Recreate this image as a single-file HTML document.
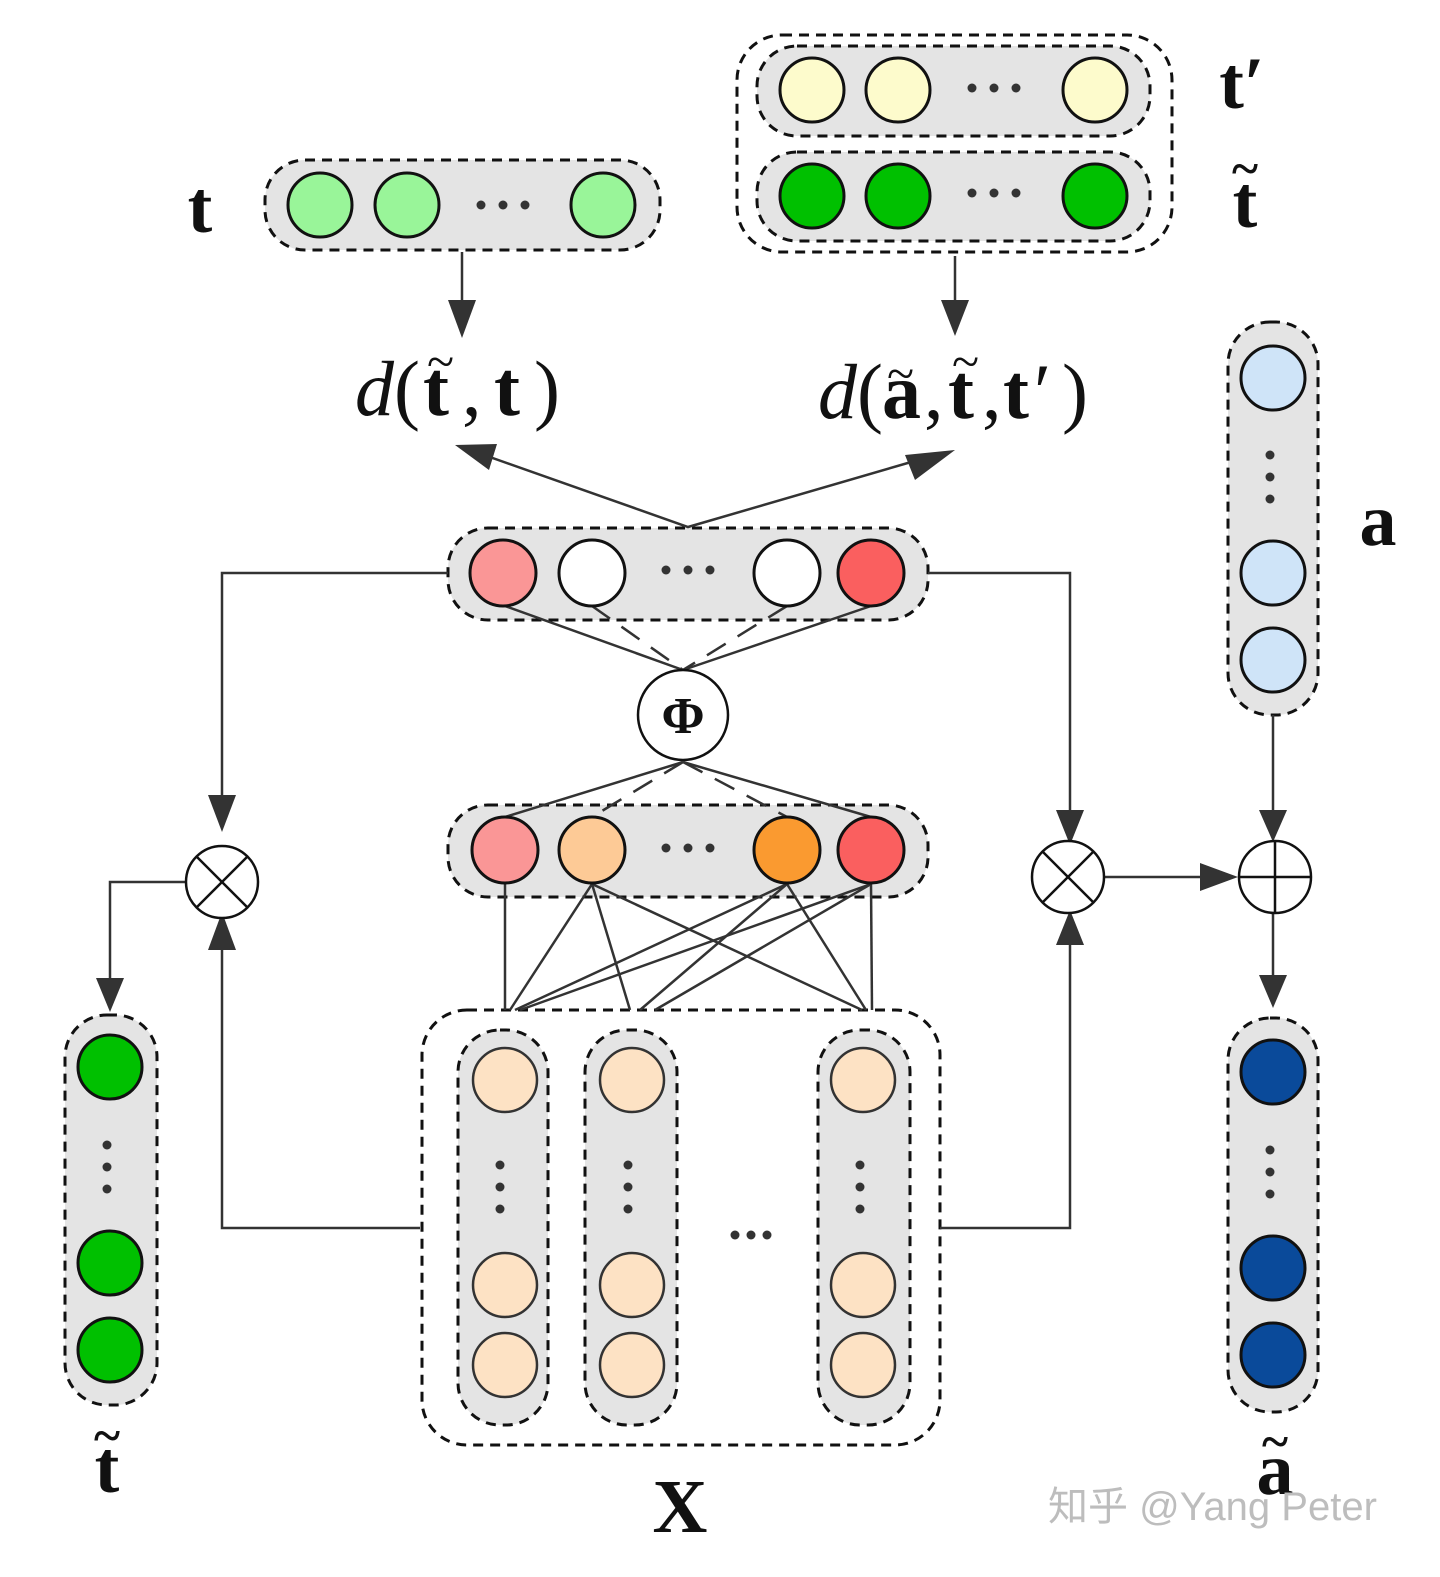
<!DOCTYPE html>
<html><head><meta charset="utf-8"><style>
html,body{margin:0;padding:0;background:#fff;}
svg{display:block;}
text{font-family:"Liberation Serif",serif;fill:#111;}
</style></head><body>
<svg width="1440" height="1577" viewBox="0 0 1440 1577" xmlns="http://www.w3.org/2000/svg">
<rect width="1440" height="1577" fill="#fff"/>
<g stroke="#111" stroke-width="3" stroke-dasharray="10 7" fill="#e4e4e4">
<rect x="265" y="160" width="395" height="90" rx="40"/>
<rect x="737" y="35" width="435" height="217" rx="45" fill="none"/>
<rect x="757" y="46" width="393" height="90" rx="40"/>
<rect x="757" y="152" width="393" height="89" rx="40"/>
<rect x="448" y="528" width="480" height="92" rx="40"/>
<rect x="448" y="805" width="480" height="92" rx="40"/>
<rect x="422" y="1010" width="518" height="435" rx="45" fill="none"/>
<rect x="458" y="1030" width="90" height="395" rx="42"/>
<rect x="585" y="1030" width="92" height="395" rx="42"/>
<rect x="818" y="1030" width="92" height="395" rx="42"/>
<rect x="65" y="1015" width="92" height="390" rx="42"/>
<rect x="1228" y="322" width="90" height="393" rx="42"/>
<rect x="1228" y="1018" width="90" height="394" rx="42"/>
</g>

<g stroke="#333" stroke-width="2.5" fill="none">
<line x1="462" y1="252" x2="462" y2="310"/>
<line x1="955" y1="256" x2="955" y2="310"/>
<polyline points="470,450 688,527 925,458"/>
<polyline points="448,573 222,573 222,800"/>
<polyline points="420,1228 222,1228 222,945"/>
<polyline points="186,882 110,882 110,985"/>
<polyline points="928,573 1070,573 1070,818"/>
<polyline points="940,1228 1070,1228 1070,935"/>
<line x1="1104" y1="877" x2="1210" y2="877"/>
<line x1="1273" y1="715" x2="1273" y2="818"/>
<line x1="1273" y1="913" x2="1273" y2="985"/>
<line x1="505" y1="606" x2="683" y2="670"/>
<line x1="871" y1="606" x2="683" y2="670"/>
<line x1="592" y1="606" x2="683" y2="670" stroke-dasharray="22 14"/>
<line x1="787" y1="606" x2="683" y2="670" stroke-dasharray="22 14"/>
<line x1="683" y1="762" x2="505" y2="817"/>
<line x1="683" y1="762" x2="871" y2="817"/>
<line x1="683" y1="762" x2="592" y2="817" stroke-dasharray="22 14"/>
<line x1="683" y1="762" x2="787" y2="817" stroke-dasharray="22 14"/>
<line x1="505" y1="884" x2="505" y2="1010"/>
<line x1="592" y1="884" x2="510" y2="1010"/>
<line x1="592" y1="884" x2="630" y2="1010"/>
<line x1="592" y1="884" x2="862" y2="1010"/>
<line x1="787" y1="884" x2="515" y2="1010"/>
<line x1="787" y1="884" x2="640" y2="1010"/>
<line x1="787" y1="884" x2="866" y2="1010"/>
<line x1="871" y1="884" x2="520" y2="1010"/>
<line x1="871" y1="884" x2="655" y2="1010"/>
<line x1="871" y1="884" x2="872" y2="1010"/>
</g>
<g fill="#333">
<polygon points="448,300 476,300 462,338"/>
<polygon points="941,300 969,300 955,336"/>
<polygon points="455,445 497,444 489,470"/>
<polygon points="955,450 905,455 915,480"/>
<polygon points="208,795 236,795 222,832"/>
<polygon points="208,950 236,950 222,912"/>
<polygon points="96,978 124,978 110,1012"/>
<polygon points="1056,810 1084,810 1070,845"/>
<polygon points="1056,945 1084,945 1070,910"/>
<polygon points="1200,863 1200,891 1238,877"/>
<polygon points="1259,810 1287,810 1273,842"/>
<polygon points="1259,975 1287,975 1273,1008"/>
</g>

<g stroke="#111" stroke-width="3">
<circle cx="320" cy="205" r="32" fill="#99f599"/>
<circle cx="407" cy="205" r="32" fill="#99f599"/>
<circle cx="603" cy="205" r="32" fill="#99f599"/>
<circle cx="812" cy="90" r="32" fill="#fdfbcc"/>
<circle cx="898" cy="90" r="32" fill="#fdfbcc"/>
<circle cx="1095" cy="90" r="32" fill="#fdfbcc"/>
<circle cx="812" cy="196" r="32" fill="#00c000"/>
<circle cx="898" cy="196" r="32" fill="#00c000"/>
<circle cx="1095" cy="196" r="32" fill="#00c000"/>
<circle cx="503" cy="573" r="33" fill="#fa9696"/>
<circle cx="592" cy="573" r="33" fill="#fff"/>
<circle cx="787" cy="573" r="33" fill="#fff"/>
<circle cx="871" cy="573" r="33" fill="#fa5f5f"/>
<circle cx="683" cy="715" r="45" fill="#fff" stroke-width="2.5"/>
<circle cx="505" cy="850" r="33" fill="#fa9696"/>
<circle cx="592" cy="850" r="33" fill="#fdca96"/>
<circle cx="787" cy="850" r="33" fill="#fa9a30"/>
<circle cx="871" cy="850" r="33" fill="#fa5f5f"/>
<g fill="#fde2c4" stroke="#333" stroke-width="2.5">
<circle cx="505" cy="1080" r="32"/><circle cx="505" cy="1285" r="32"/><circle cx="505" cy="1365" r="32"/>
<circle cx="632" cy="1080" r="32"/><circle cx="632" cy="1285" r="32"/><circle cx="632" cy="1365" r="32"/>
<circle cx="863" cy="1080" r="32"/><circle cx="863" cy="1285" r="32"/><circle cx="863" cy="1365" r="32"/>
</g>
<circle cx="110" cy="1067" r="32" fill="#00c000"/>
<circle cx="110" cy="1263" r="32" fill="#00c000"/>
<circle cx="110" cy="1350" r="32" fill="#00c000"/>
<circle cx="1273" cy="378" r="32" fill="#cfe4f8"/>
<circle cx="1273" cy="573" r="32" fill="#cfe4f8"/>
<circle cx="1273" cy="660" r="32" fill="#cfe4f8"/>
<circle cx="1273" cy="1072" r="32" fill="#0a4a9a"/>
<circle cx="1273" cy="1268" r="32" fill="#0a4a9a"/>
<circle cx="1273" cy="1355" r="32" fill="#0a4a9a"/>
<g fill="#fff" stroke-width="2.5">
<circle cx="222" cy="882" r="36"/><circle cx="1068" cy="877" r="36"/><circle cx="1275" cy="877" r="36"/>
</g>
<g stroke-width="2.5">
<line x1="197" y1="857" x2="247" y2="907"/><line x1="247" y1="857" x2="197" y2="907"/>
<line x1="1043" y1="852" x2="1093" y2="902"/><line x1="1093" y1="852" x2="1043" y2="902"/>
<line x1="1239" y1="877" x2="1311" y2="877"/><line x1="1275" y1="841" x2="1275" y2="913"/>
</g>
</g>

<g fill="#333">
<circle cx="481" cy="205" r="4.5"/><circle cx="503" cy="205" r="4.5"/><circle cx="525" cy="205" r="4.5"/>
<circle cx="972" cy="88" r="4.5"/><circle cx="994" cy="88" r="4.5"/><circle cx="1016" cy="88" r="4.5"/>
<circle cx="972" cy="193" r="4.5"/><circle cx="994" cy="193" r="4.5"/><circle cx="1016" cy="193" r="4.5"/>
<circle cx="666" cy="570" r="4.5"/><circle cx="688" cy="570" r="4.5"/><circle cx="710" cy="570" r="4.5"/>
<circle cx="666" cy="848" r="4.5"/><circle cx="688" cy="848" r="4.5"/><circle cx="710" cy="848" r="4.5"/>
<circle cx="735" cy="1235" r="4.5"/><circle cx="751" cy="1235" r="4.5"/><circle cx="767" cy="1235" r="4.5"/>
<circle cx="500" cy="1165" r="4.5"/><circle cx="500" cy="1187" r="4.5"/><circle cx="500" cy="1209" r="4.5"/>
<circle cx="628" cy="1165" r="4.5"/><circle cx="628" cy="1187" r="4.5"/><circle cx="628" cy="1209" r="4.5"/>
<circle cx="860" cy="1165" r="4.5"/><circle cx="860" cy="1187" r="4.5"/><circle cx="860" cy="1209" r="4.5"/>
<circle cx="107" cy="1145" r="4.5"/><circle cx="107" cy="1167" r="4.5"/><circle cx="107" cy="1189" r="4.5"/>
<circle cx="1270" cy="455" r="4.5"/><circle cx="1270" cy="477" r="4.5"/><circle cx="1270" cy="499" r="4.5"/>
<circle cx="1270" cy="1150" r="4.5"/><circle cx="1270" cy="1172" r="4.5"/><circle cx="1270" cy="1194" r="4.5"/>
</g>

<g font-weight="bold">
<text x="200" y="232" font-size="74" text-anchor="middle">t</text>
<text x="1242" y="108" font-size="74" text-anchor="middle">t′</text>
<text x="1245" y="227" font-size="74" text-anchor="middle">t</text>
<text x="1245" y="185" font-size="50" text-anchor="middle">~</text>
<text x="1378" y="545" font-size="74" text-anchor="middle">a</text>
<text x="107" y="1492" font-size="74" text-anchor="middle">t</text>
<text x="107" y="1452" font-size="50" text-anchor="middle">~</text>
<text x="1275" y="1494" font-size="74" text-anchor="middle">a</text>
<text x="1275" y="1458" font-size="50" text-anchor="middle">~</text>
<text x="680" y="1532" font-size="76" text-anchor="middle">X</text>
</g>
<text x="683" y="733" font-size="52" font-weight="bold" text-anchor="middle">Φ</text>
<g font-size="78">
<text x="355" y="415" font-style="italic">d</text>
<text x="394" y="415">(</text>
<text x="423" y="415" font-weight="bold">t</text>
<text x="462" y="415">,</text>
<text x="494" y="415" font-weight="bold">t</text>
<text x="534" y="415">)</text>
<text x="818" y="418" font-style="italic">d</text>
<text x="857" y="418">(</text>
<text x="882" y="418" font-weight="bold">a</text>
<text x="924" y="418">,</text>
<text x="948" y="418" font-weight="bold">t</text>
<text x="982" y="418">,</text>
<text x="1003" y="418" font-weight="bold">t</text>
<text x="1034" y="418">′</text>
<text x="1062" y="418">)</text>
</g>
<g font-size="50">
<text x="427" y="378">~</text>
<text x="887" y="390">~</text>
<text x="952" y="378">~</text>
</g>
<text x="1048" y="1520" font-size="40" style="fill:#bdbdbd;font-family:'Liberation Sans','Noto Sans CJK SC',sans-serif;">知乎 @Yang Peter</text>
</svg>
</body></html>
